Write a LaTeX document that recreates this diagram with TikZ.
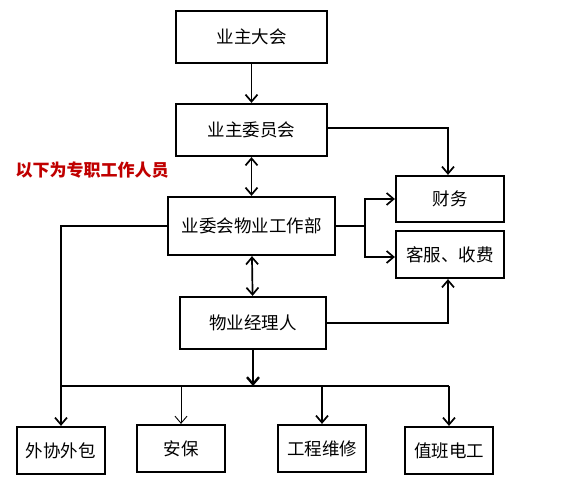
\documentclass[tikz,border=0pt]{standalone}
\usepackage{fontspec}
\newfontfamily\cjk{Noto Sans CJK SC}
\usetikzlibrary{arrows.meta}
\definecolor{darkred}{RGB}{192,0,0}
\tikzset{
  box/.style={draw, line width=2.2pt, inner sep=0pt, font=\cjk\fontsize{17.5}{17.5}\selectfont},
  link/.style={line width=1.7pt},
}
\begin{document}
\begin{tikzpicture}[x=1pt, y=-1pt, >={Straight Barb[length=7pt,width=12pt]}]
  \useasboundingbox (0,0) rectangle (571,486);

  % Upper boxes
  \node[box, minimum width=151pt, minimum height=52pt] (owners) at (251.5,37) {业主大会};
  \node[box, minimum width=151pt, minimum height=52pt] (committee) at (251.5,130) {业主委员会};
  \node[box, minimum width=167pt, minimum height=58pt] (office) at (251.5,226) {业委会物业工作部};
  \node[box, minimum width=146pt, minimum height=52pt] (manager) at (253,323) {物业经理人};

  % Right boxes
  \node[box, minimum width=108pt, minimum height=46pt] (finance) at (450,199) {财务};
  \node[box, minimum width=108pt, minimum height=47pt] (service) at (450,254.5) {客服、收费};

  % Bottom boxes
  \node[box, minimum width=88pt, minimum height=47pt] (outsource) at (61,450.5) {外协外包};
  \node[box, minimum width=88pt, minimum height=47pt] (security) at (181,448.5) {安保};
  \node[box, minimum width=88pt, minimum height=47pt] (repair) at (322,448.5) {工程维修};
  \node[box, minimum width=88pt, minimum height=47pt] (duty) at (449,450.5) {值班电工};

  % Red note
  \node[text=darkred, font=\cjk\bfseries\fontsize{17}{17}\selectfont, anchor=west] (note) at (12,170) {以下为专职工作人员};

  % Vertical chain
  \draw[link, ->] (owners) -- (committee);
  \draw[link, <->] (committee) -- (office);
  \draw[link, <->] (office) -- (manager);

  % Right side
  \coordinate (corner) at (448,128);
  \draw[link, ->] (committee.east |- corner) -- (corner) -- (corner |- finance.north);
  \coordinate (split) at (365,226);
  \draw[link] (office.east) -- (split);
  \draw[link, ->] (split) |- (finance.west);
  \coordinate (lower) at (365,257);
  \draw[link, ->] (split) -- (lower) -- (lower -| service.west);
  \coordinate (rise) at (448,323);
  \draw[link, ->] (manager.east) -- (rise) -- (rise |- service.south);

  % Bus to bottom
  \coordinate (bus) at (253,386);
  \coordinate (busleft) at (61,386);
  \coordinate (busright) at (449,386);
  \draw[line width=2.4pt, ->] (manager.south -| bus) -- (bus);
  \draw[link] (office.west) -| (busleft) -- (busright);
  \draw[link, ->] (busleft) -- (outsource.north);
  \draw[line width=0.9pt, ->] (security.north |- bus) -- (security.north);
  \draw[link, ->] (repair.north |- bus) -- (repair.north);
  \draw[link, ->] (busright) -- (duty.north);
\end{tikzpicture}
\end{document}
